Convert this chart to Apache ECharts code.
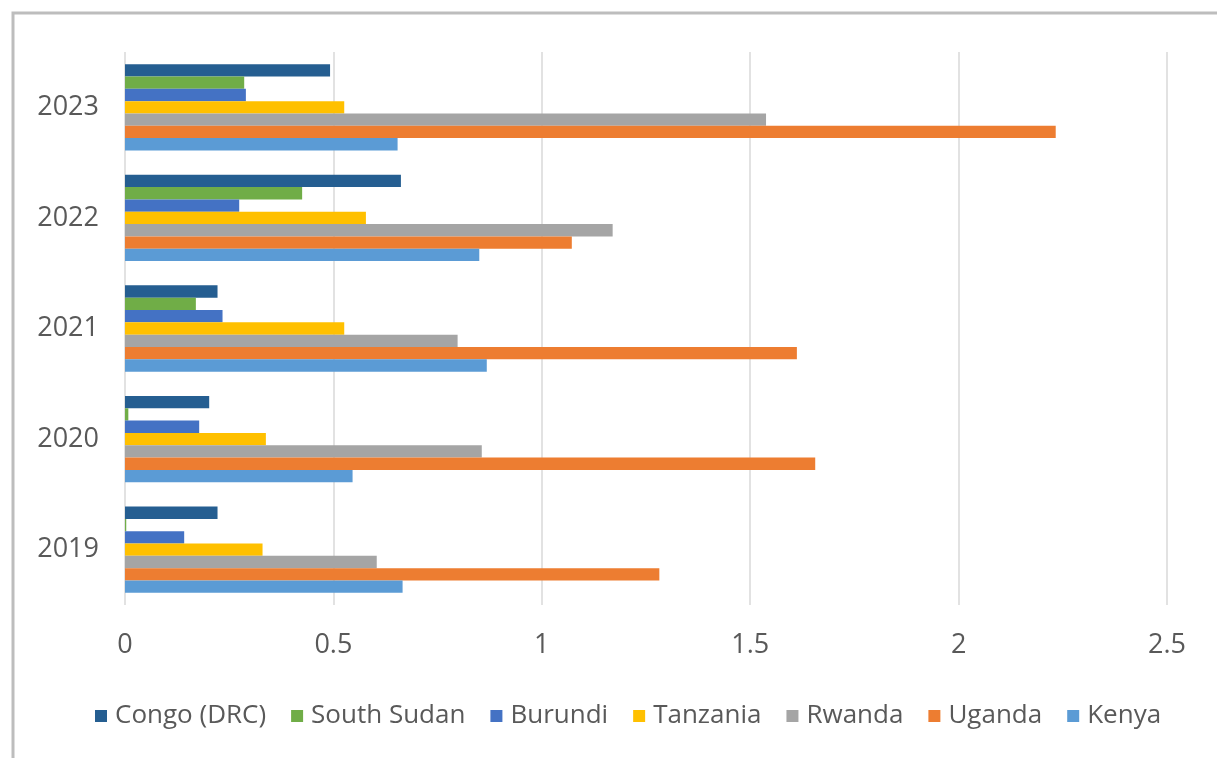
<!DOCTYPE html>
<html>
<head>
<meta charset="utf-8">
<script src="https://cdn.jsdelivr.net/npm/echarts@6/dist/echarts.min.js"></script>
<style>
html,body{margin:0;padding:0;background:#fff;}
#c{width:1217px;height:758px;}
</style>
</head>
<body>
<div id="c"></div>
<script>
const years = ['2019', '2020', '2021', '2022', '2023'];
const kenya      = [0.666, 0.546, 0.868, 0.850, 0.654];
const uganda     = [1.282, 1.656, 1.612, 1.072, 2.233];
const rwanda     = [0.604, 0.856, 0.798, 1.170, 1.538];
const tanzania   = [0.330, 0.338, 0.526, 0.578, 0.526];
const burundi    = [0.142, 0.178, 0.234, 0.274, 0.290];
const southSudan = [0.003, 0.008, 0.170, 0.425, 0.286];
const congo      = [0.222, 0.202, 0.222, 0.662, 0.492];
const legendOrder = ['Congo (DRC)', 'South Sudan', 'Burundi', 'Tanzania', 'Rwanda', 'Uganda', 'Kenya'];
const xTicks = { min: 0, max: 2.5, step: 0.5 };

const seriesDefs = [
  ['Congo (DRC)', congo, '#255E91'],
  ['South Sudan', southSudan, '#70AD47'],
  ['Burundi', burundi, '#4472C4'],
  ['Tanzania', tanzania, '#FFC000'],
  ['Rwanda', rwanda, '#A5A5A5'],
  ['Uganda', uganda, '#ED7D31'],
  ['Kenya', kenya, '#5B9BD5']
];

const font = '"Open Sans", "Noto Sans", sans-serif';
const chart = echarts.init(document.getElementById('c'), null, { renderer: 'canvas' });
chart.setOption({
  animation: false,
  backgroundColor: '#ffffff',
  graphic: [{
    type: 'rect',
    shape: { x: 13, y: 13, width: 1400, height: 1000 },
    style: { fill: 'none', stroke: '#bdbdbd', lineWidth: 3 },
    silent: true
  }],
  grid: { left: 125, right: 50, top: 52, bottom: 153, containLabel: false },
  legend: {
    data: legendOrder,
    bottom: 24,
    left: 90,
    icon: 'rect',
    itemWidth: 12,
    itemHeight: 12,
    itemGap: 25,
    textStyle: { color: '#595959', fontSize: 26, fontFamily: font, padding: [0, 0, 0, 3] }
  },
  xAxis: {
    type: 'value',
    min: xTicks.min,
    max: xTicks.max,
    interval: xTicks.step,
    axisLine: { show: false },
    axisTick: { show: false },
    splitLine: { show: true, lineStyle: { color: '#d9d9d9', width: 1.5 } },
    axisLabel: { color: '#595959', fontSize: 27, fontFamily: font, margin: 27 }
  },
  yAxis: {
    type: 'category',
    data: years,
    axisLine: { show: false },
    axisTick: { show: false },
    axisLabel: { color: '#595959', fontSize: 27, fontFamily: font, margin: 26 }
  },
  series: seriesDefs.map(([name, data, color]) => ({
    name: name,
    type: 'bar',
    data: data,
    itemStyle: { color: color },
    barGap: '0%',
    barCategoryGap: '22%'
  }))
});
</script>
</body>
</html>
